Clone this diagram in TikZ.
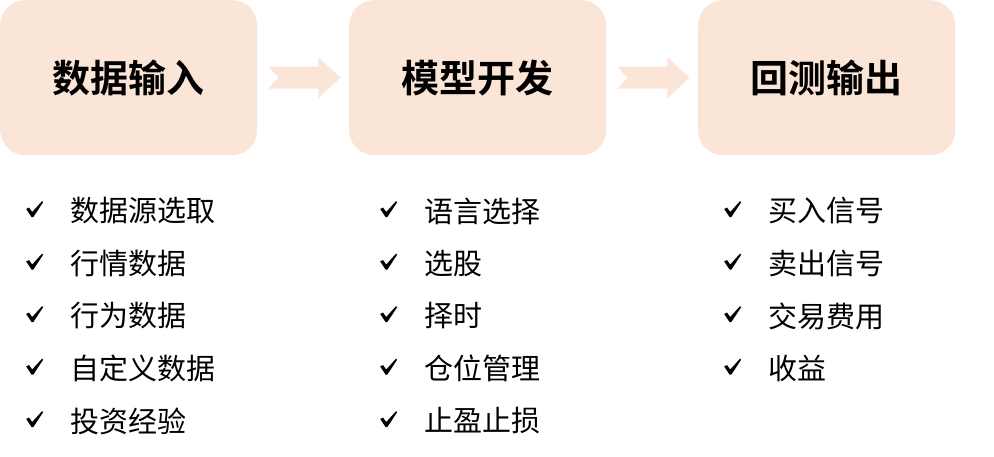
\documentclass[tikz,border=0pt]{standalone}
\usepackage{fontspec}
\newfontfamily\cjk{Noto Sans CJK SC}
\newfontfamily\cjkbold{Noto Sans CJK SC Bold}
\definecolor{peach}{HTML}{FBE5D6}
\begin{document}
\begin{tikzpicture}[x=1pt,y=-1pt,
  stage/.style={fill=peach,draw=none,rounded corners=25pt,minimum width=257pt,minimum height=155pt,inner sep=0pt,font=\cjkbold\fontsize{38}{40}\selectfont,anchor=north west},
  item/.style={anchor=west,inner sep=0pt,font=\cjk\fontsize{29}{32}\selectfont},
  tick/.style={anchor=west,inner sep=0pt,minimum width=17pt,minimum height=16pt,
    path picture={\fill[black] ([shift={(0,8)}]path picture bounding box.north west)
      -- ++(2.8,-1.5) -- ++(3.2,4.5) -- ++(9.8,-10.8) -- ++(1.2,0.9)
      -- ++(-9.8,14.9) -- ++(-1.9,0) -- cycle;}}]
\useasboundingbox (0,0) rectangle (994,456);
\node[stage] (b1) at (0,0) {数据输入};
\node[stage] (b2) at (349,0) {模型开发};
\node[stage] (b3) at (698,0) {回测输出};
% notched arrows between stages
\foreach \a/\b in {b1/b2,b2/b3}{
  \path (\a.east) ++(11,0) coordinate (t);
  \fill[peach] (t) ++(0,-11) -- ++(50,0) -- ++(0,-9.5) -- ++(22,20.5) -- ++(-22,20.5) -- ++(0,-9.5) -- ++(-50,0) -- ++(10,-11) -- cycle;
}
% lists
\foreach \i/\t in {1/数据源选取,2/行情数据,3/行为数据,4/自定义数据,5/投资经验}{
  \node[tick] (c1\i) at (26,{209+52.5*(\i-1)}) {};
  \node[item] (i1\i) at (70,{211+52.5*(\i-1)}) {\t};
}
\foreach \i/\t in {1/语言选择,2/选股,3/择时,4/仓位管理,5/止盈止损}{
  \node[tick] (c2\i) at (380,{209+52.5*(\i-1)}) {};
  \node[item] (i2\i) at (424,{211+52.5*(\i-1)}) {\t};
}
\foreach \i/\t in {1/买入信号,2/卖出信号,3/交易费用,4/收益}{
  \node[tick] (c3\i) at (724,{209+52.5*(\i-1)}) {};
  \node[item] (i3\i) at (768,{211+52.5*(\i-1)}) {\t};
}
\end{tikzpicture}
\end{document}
